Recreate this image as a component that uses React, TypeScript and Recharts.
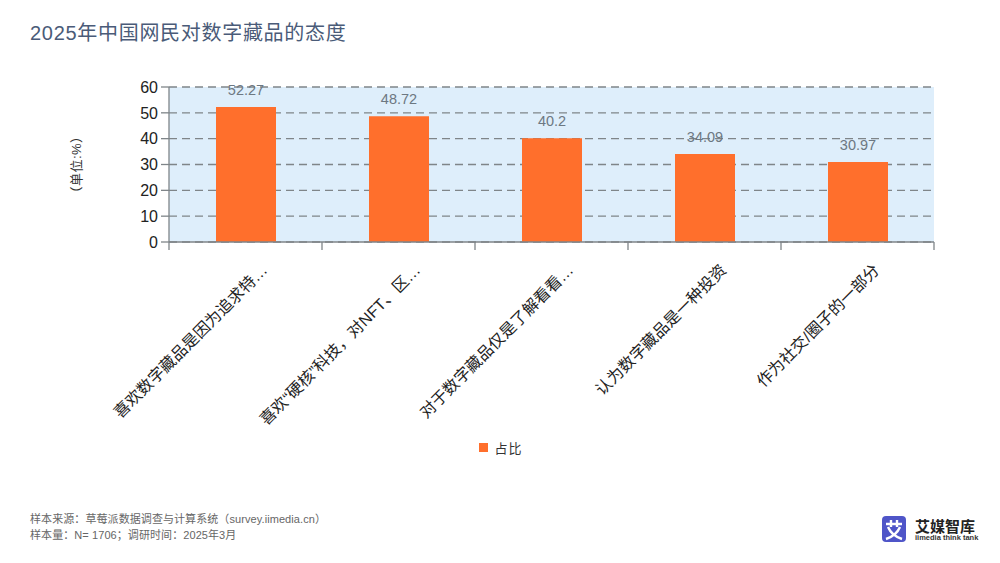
import React from 'react';
import { BarChart, Bar, XAxis, YAxis, CartesianGrid, LabelList, Legend } from 'recharts';

const categories = [
  '喜欢数字藏品是因为追求特…',
  '喜欢“硬核”科技，对NFT、区…',
  '对于数字藏品仅是了解看看…',
  '认为数字藏品是一种投资',
  '作为社交/圈子的一部分',
];
const shares = [52.27, 48.72, 40.2, 34.09, 30.97];
const yTicks = [0, 10, 20, 30, 40, 50, 60];

const data = categories.map((name, i) => ({ name, share: shares[i] }));

const FONT = '"Liberation Sans", "Noto Sans CJK SC", sans-serif';
const AXIS_COLOR = '#7f8589';

// category ticks sit between the bands, so the marks are drawn from the band width
const CategoryTick = ({ x, y, payload, index, width, visibleTicksCount }: any) => {
  const step = width / visibleTicksCount;
  const lineY = y - 8;
  return (
    <g>
      <line x1={x - step / 2} x2={x - step / 2} y1={lineY} y2={lineY + 8} stroke={AXIS_COLOR} strokeWidth={1.3} />
      {index === visibleTicksCount - 1 && (
        <line x1={x + step / 2} x2={x + step / 2} y1={lineY} y2={lineY + 8} stroke={AXIS_COLOR} strokeWidth={1.3} />
      )}
      <text
        x={x + 23}
        y={y + 21}
        transform={`rotate(-45 ${x + 23} ${y + 21})`}
        textAnchor="end"
        fontSize={16}
        letterSpacing={0.1}
        fill="#222"
        fontFamily={FONT}
      >
        {payload.value}
      </text>
    </g>
  );
};

const LegendContent = () => (
  <div style={{ display: 'flex', alignItems: 'center', justifyContent: 'center', fontSize: 13, color: '#333', letterSpacing: 1, paddingLeft: 2 }}>
    <span style={{ width: 9, height: 9, background: '#ff6f2c', marginRight: 6 }} />
    占比
  </div>
);

const Logo = () => (
  <div style={{ position: 'absolute', left: 882, top: 516 }}>
    <svg width={24} height={26} viewBox="0 0 24 26" style={{ display: 'block' }}>
      <rect width={24} height={26} rx={4} fill="#4f55c8" />
      <path d="M4 8H20M9 4V11M15 4V11M18 11C15 18 10 21 4 23M6 11C9 18 14 21 20 23" stroke="#fff" strokeWidth={2.4} fill="none" />
    </svg>
    <div style={{ position: 'absolute', left: 33, top: -1, width: 70, fontSize: 15, fontWeight: 700, color: '#222' }}>艾媒智库</div>
    <div style={{ position: 'absolute', left: 33, top: 17, width: 70, fontSize: 7.5, fontWeight: 700, color: '#333', whiteSpace: 'nowrap' }}>iimedia think tank</div>
  </div>
);

export default function App() {
  return (
    <div style={{ position: 'absolute', left: 0, top: 0, width: 1000, height: 563, background: '#fff', fontFamily: FONT, overflow: 'hidden' }}>
      <div style={{ position: 'absolute', left: 30, top: 17, fontSize: 20, letterSpacing: 0.7, color: '#4a5b78', whiteSpace: 'nowrap' }}>
        2025年中国网民对数字藏品的态度
      </div>
      <BarChart width={1000} height={563} data={data} margin={{ top: 87, right: 66, bottom: 102, left: 60 }}>
        <CartesianGrid vertical={false} horizontalValues={yTicks} stroke={AXIS_COLOR} strokeWidth={1.3} strokeDasharray="8 5" fill="#deeefb" />
        <XAxis
          dataKey="name"
          height={200}
          axisLine={{ stroke: AXIS_COLOR, strokeWidth: 1.3 }}
          tickLine={false}
          tick={<CategoryTick />}
          interval={0}
        />
        <YAxis
          width={109}
          domain={[0, 60]}
          ticks={yTicks}
          interval={0}
          tickSize={8}
          tickMargin={3}
          tick={{ fontSize: 16, fill: '#222' }}
          tickLine={{ stroke: AXIS_COLOR, strokeWidth: 1.3 }}
          axisLine={{ stroke: AXIS_COLOR, strokeWidth: 1.3 }}
          label={{ value: '（单位:%）', angle: -90, position: 'insideLeft', offset: 16, fontSize: 13, letterSpacing: 0.5, fill: '#333', textAnchor: 'middle' }}
        />
        <Bar dataKey="share" name="占比" fill="#ff6f2c" barSize={60} isAnimationActive={false}>
          <LabelList dataKey="share" position="top" offset={12} fontSize={14.5} fill="#6d7882" />
        </Bar>
        <Legend content={<LegendContent />} wrapperStyle={{ position: 'absolute', left: 0, width: 1000, top: 438 }} />
      </BarChart>
      <div style={{ position: 'absolute', left: 30, top: 511, fontSize: 11, letterSpacing: 0.08, lineHeight: '16px', color: '#666', whiteSpace: 'nowrap' }}>
        <div>样本来源：草莓派数据调查与计算系统（survey.iimedia.cn）</div>
        <div>样本量：N= 1706；调研时间：2025年3月</div>
      </div>
      <Logo />
    </div>
  );
}
